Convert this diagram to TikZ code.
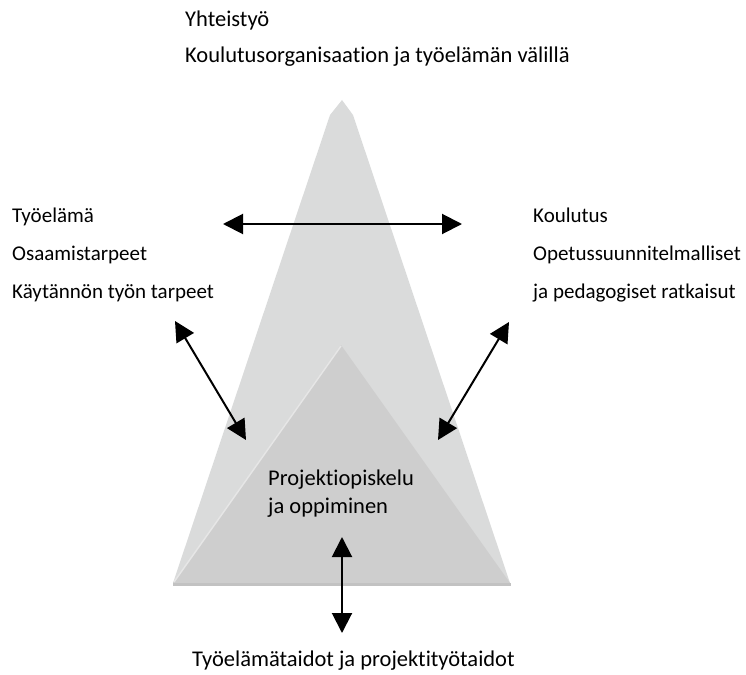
\documentclass[tikz,border=0pt]{standalone}
\usepackage{fontspec}
\setmainfont{Carlito}[Ligatures=CommonOff]
\usetikzlibrary{arrows.meta}
\definecolor{outerfill}{RGB}{218,219,219}
\definecolor{innerfill}{RGB}{206,206,206}
\definecolor{edgehi}{RGB}{230,230,230}
\definecolor{baseedge}{RGB}{194,194,194}
\tikzset{
  lbl/.style={anchor=base west, inner sep=0pt, font=\fontsize{22.5}{26}\selectfont},
  sidelbl/.style={lbl, font=\fontsize{21}{25}\selectfont},
  bigtip/.tip={Triangle[length=20pt,width=20pt]},
  twoway/.style={bigtip-bigtip, line width=2pt, black},
}
\begin{document}
\begin{tikzpicture}[x=1pt, y=-1pt]
  \useasboundingbox (0,0) rectangle (746,674);

  % outer peak with a bevelled tip
  \fill[outerfill] (342,100) -- (353,115) -- (510,583) -- (173,583) -- (330,115) -- cycle;
  % inner triangle
  \fill[innerfill] (341,345) -- (510,583) -- (173,583) -- cycle;
  \draw[edgehi, line width=1.5pt] (174,582) -- (341,346);
  \fill[baseedge] (173,583) rectangle (511,585.5);

  % texts
  \node[lbl] (yht)  at (185,27)  {Yhteistyö};
  \node[lbl] (kov)  at (185,63)  {Koulutusorganisaation ja työelämän välillä};

  \node[sidelbl] (tyo)  at (12,222)  {Työelämä};
  \node[sidelbl] (osa)  at (12,260)  {Osaamistarpeet};
  \node[sidelbl] (kay)  at (12,298)  {Käytännön työn tarpeet};

  \node[sidelbl] (kou)  at (533,222) {Koulutus};
  \node[sidelbl] (ops)  at (533,260) {Opetussuunnitelmalliset};
  \node[sidelbl] (ped)  at (533,298) {ja pedagogiset ratkaisut};

  \node[lbl] (pro)  at (268,485) {Projektiopiskelu};
  \node[lbl] (opp)  at (268,513) {ja oppiminen};

  \node[lbl] (tai)  at (192,666) {Työelämätaidot ja projektityötaidot};

  % arrow end points
  \coordinate (hL) at (223,224);
  \coordinate (hR) at (462,224);
  \coordinate (lA) at (175,321);
  \coordinate (lB) at (246,440);
  \coordinate (rA) at (509,322);
  \coordinate (rB) at (438,440);
  \coordinate (vA) at (342,537);
  \coordinate (vB) at (342,633);

  \draw[twoway] (hL) -- (hR);
  \draw[twoway] (lA) -- (lB);
  \draw[twoway] (rA) -- (rB);
  \draw[twoway] (vA) -- (vB);
\end{tikzpicture}
\end{document}
